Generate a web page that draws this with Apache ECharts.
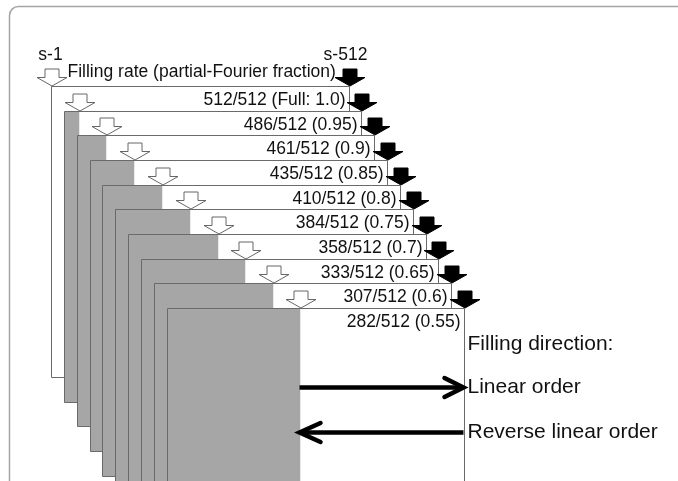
<!DOCTYPE html>
<html>
<head>
<meta charset="utf-8">
<script src="https://cdn.jsdelivr.net/npm/echarts@6/dist/echarts.min.js"></script>
<style>
html,body{margin:0;padding:0;background:#fff;}
#chart{width:678px;height:481px;}
</style>
</head>
<body>
<div id="chart"></div>
<script>
// ---- data ----
const matrixSize = 512;
const sampledLines = [512, 486, 461, 435, 410, 384, 358, 333, 307, 282];
const fractions = [1.0, 0.95, 0.9, 0.85, 0.8, 0.75, 0.7, 0.65, 0.6, 0.55];
const categories = ['512/512 (Full: 1.0)', '486/512 (0.95)', '461/512 (0.9)', '435/512 (0.85)',
  '410/512 (0.8)', '384/512 (0.75)', '358/512 (0.7)', '333/512 (0.65)', '307/512 (0.6)', '282/512 (0.55)'];
const startLabel = 's-1';
const endLabel = 's-512';
const headerText = 'Filling rate (partial-Fourier fraction)';
const directionTitle = 'Filling direction:';
const directionLabels = ['Linear order', 'Reverse linear order'];
const directionSigns = [1, -1];

// ---- layout (pixels) ----
const W = 678, H = 481;
const L = { x0: 51, y0: 86, w: 297.5, h: 291, dx: 12.85, dy: 24.67 };
const sx = L.w / matrixSize, sy = L.h / matrixSize;
const dxCol = L.dx / sx, dyLine = L.dy / sy;
const FONT = '"Liberation Sans", Arial, sans-serif';
const SMALL = '17.5px ' + FONT, BIG = '21px ' + FONT;
const GRAY = '#a6a6a6', EDGE = '#6a6a6a';

function crisp(v) { return Math.round(v) + 0.5; }

function arrowPoints(cx, tipY) {
  return [[cx - 7, tipY - 17], [cx + 7, tipY - 17], [cx + 7, tipY - 8.5], [cx + 15, tipY - 8.5],
          [cx, tipY], [cx - 15, tipY - 8.5], [cx - 7, tipY - 8.5]];
}

function rectGeom(api, i, sampled) {
  const c0 = i * dxCol, r0 = i * dyLine;
  const p0 = api.coord([c0, r0]);
  const pg = api.coord([c0 + matrixSize - sampled, r0]);
  const p1 = api.coord([c0 + matrixSize, r0 + matrixSize]);
  return { left: crisp(p0[0]), top: crisp(p0[1]), gx: crisp(pg[0]), right: crisp(p1[0]), bottom: crisp(p1[1]) };
}

function renderPage(params, api) {
  const i = api.value(0);
  const sampled = api.value(1);
  const g = rectGeom(api, i, sampled);
  const z = i * 10;
  const children = [
    { type: 'rect', z2: z, shape: { x: g.left, y: g.top, width: g.gx - g.left, height: g.bottom - g.top }, style: { fill: GRAY } },
    { type: 'rect', z2: z, shape: { x: g.gx, y: g.top, width: g.right - g.gx, height: g.bottom - g.top }, style: { fill: '#fff' } },
    { type: 'rect', z2: z + 1, shape: { x: g.left, y: g.top, width: g.right - g.left, height: g.bottom - g.top }, style: { fill: null, stroke: EDGE, lineWidth: 1 } },
    { type: 'text', z2: z + 2, style: { text: categories[i], x: g.right - 4, y: g.top + 14, align: 'right', verticalAlign: 'middle', font: SMALL, fill: '#111' } },
    { type: 'polygon', z2: z + 3, shape: { points: arrowPoints(Math.round(g.gx), g.top - 0.5) }, style: { fill: '#fff', stroke: '#666', lineWidth: 1 } },
    { type: 'polygon', z2: z + 3, shape: { points: arrowPoints(Math.round(g.right), g.top - 0.5) }, style: { fill: '#000', stroke: '#000', lineWidth: 1 } }
  ];
  if (i === 0) {
    children.push(
      { type: 'text', z2: z + 4, style: { text: startLabel, x: g.left - 1, y: g.top - 31, align: 'center', verticalAlign: 'middle', font: SMALL, fill: '#111' } },
      { type: 'text', z2: z + 4, style: { text: endLabel, x: g.right - 4, y: g.top - 31, align: 'center', verticalAlign: 'middle', font: SMALL, fill: '#111' } },
      { type: 'text', z2: z + 2, style: { text: headerText, x: g.left + 16, y: g.top - 14, align: 'left', verticalAlign: 'middle', font: SMALL, fill: '#111' } }
    );
  }
  return { type: 'group', children: children };
}

function renderDirection(params, api) {
  const k = api.value(0);
  const sign = api.value(1);
  const last = sampledLines.length - 1;
  const g = rectGeom(api, last, sampledLines[last]);
  const y = g.top + 79 + k * 45;
  const a = g.gx - 1, b = g.right - 1;
  const children = [];
  if (k === 0) {
    children.push({ type: 'text', z2: 200, style: { text: directionTitle, x: g.right + 3, y: g.top + 36, align: 'left', verticalAlign: 'middle', font: BIG, fill: '#111' } });
  }
  let tip, back, from;
  if (sign > 0) { tip = b; back = b - 19; from = a; } else { tip = a; back = a + 21; from = b; }
  children.push(
    { type: 'line', z2: 200, shape: { x1: from, y1: y, x2: tip - sign * 2, y2: y }, style: { stroke: '#000', lineWidth: 4.5 } },
    { type: 'polyline', z2: 200, shape: { points: [[back, y - 9.5], [tip, y], [back, y + 9.5]] }, style: { stroke: '#000', lineWidth: 4.5, fill: null, lineJoin: 'miter', lineCap: 'round' } },
    { type: 'text', z2: 200, style: { text: directionLabels[k], x: g.right + 3, y: y, align: 'left', verticalAlign: 'middle', font: BIG, fill: '#111' } }
  );
  return { type: 'group', children: children };
}

const chart = echarts.init(document.getElementById('chart'), null, { renderer: 'canvas' });
chart.setOption({
  backgroundColor: '#fff',
  animation: false,
  grid: { left: 0, right: 0, top: 0, bottom: 0 },
  xAxis: { type: 'value', min: -L.x0 / sx, max: (W - L.x0) / sx, show: false },
  yAxis: { type: 'value', inverse: true, min: -L.y0 / sy, max: (H - L.y0) / sy, show: false },
  graphic: [{
    type: 'rect', z: -1, shape: { x: 9.5, y: 6.5, width: 720, height: 520, r: 9 },
    style: { fill: null, stroke: '#a5a5a5', lineWidth: 1.5 }
  }],
  series: [
    { type: 'custom', name: 'pages', coordinateSystem: 'cartesian2d', renderItem: renderPage,
      data: sampledLines.map((s, i) => [i, s, fractions[i]]), clip: false, silent: true },
    { type: 'custom', name: 'direction', coordinateSystem: 'cartesian2d', renderItem: renderDirection,
      data: directionLabels.map((t, k) => [k, directionSigns[k]]), clip: false, silent: true, z: 3 }
  ]
});
</script>
</body>
</html>
